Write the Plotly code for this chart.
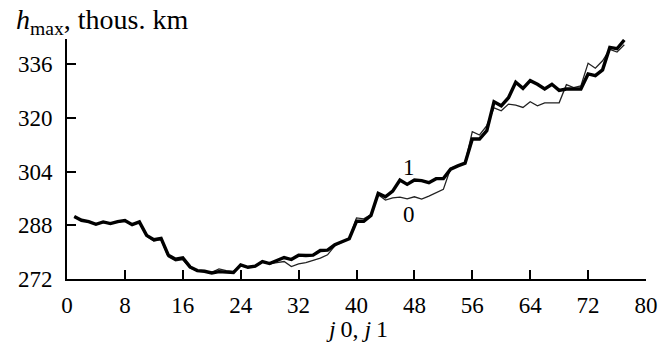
import plotly.graph_objects as go

x_vals = list(range(1, 78))

h1 = [290.6, 289.5, 289.1, 288.3, 289.0, 288.5, 289.1, 289.4, 288.2, 289.0,
      285.0, 283.7, 284.1, 279.1, 277.9, 278.3, 275.6, 274.5, 274.3, 273.8,
      274.2, 274.0, 273.9, 276.2, 275.5, 275.8, 277.2, 276.6, 277.5, 278.4,
      277.8, 279.1, 279.0, 279.1, 280.5, 280.6, 282.2, 283.0, 284.0, 289.2,
      289.2, 290.9, 297.5, 296.5, 298.2, 301.5, 300.2, 301.5, 301.3, 300.7,
      301.9, 301.9, 304.7, 305.7, 306.5, 313.7, 313.7, 316.2, 324.8, 323.6,
      326.0, 330.6, 328.8, 331.1, 330.0, 328.6, 330.0, 328.2, 328.6, 328.6,
      328.6, 333.1, 332.6, 334.3, 341.0, 340.6, 343.2]

h0 = [290.5, 289.4, 289.0, 288.2, 288.9, 288.4, 289.0, 289.3, 288.1, 288.9,
      284.7, 283.3, 283.7, 278.6, 277.4, 277.8, 275.3, 274.4, 274.2, 274.0,
      275.0, 274.5, 274.3, 276.0, 275.4, 275.7, 277.0, 276.5, 276.9, 277.2,
      275.7, 276.5, 276.9, 277.6, 278.2, 279.2, 281.9, 283.0, 284.0, 290.2,
      289.9, 291.2, 297.1, 295.5, 296.2, 296.4, 295.9, 296.5, 295.8, 296.7,
      297.7, 298.7, 305.0, 305.8, 306.6, 315.9, 314.9, 317.7, 323.0, 322.1,
      324.1, 323.8, 323.1, 324.8, 323.6, 324.5, 324.5, 324.5, 329.9, 329.0,
      329.5, 336.3, 334.8, 337.0, 340.4, 339.6, 341.8]

x_ticks = [0, 8, 16, 24, 32, 40, 48, 56, 64, 72, 80]
y_ticks = [272, 288, 304, 320, 336]

FONT = "Liberation Serif"

fig = go.Figure()
fig.add_trace(go.Scatter(x=x_vals, y=h0, mode="lines",
                         line=dict(color="#222222", width=1.3), name="0"))
fig.add_trace(go.Scatter(x=x_vals, y=h1, mode="lines",
                         line=dict(color="#000000", width=3.4), name="1"))

fig.update_layout(
    width=669, height=353,
    margin=dict(l=67, r=23, t=39, b=74, autoexpand=False),
    paper_bgcolor="white", plot_bgcolor="white",
    showlegend=False,
    font=dict(family=FONT, size=23, color="black"),
)
fig.update_xaxes(range=[0, 80], tickvals=x_ticks, ticktext=[str(v) for v in x_ticks],
                 showline=True, linecolor="black", linewidth=2,
                 ticks="inside", ticklen=9, tickwidth=2, tickcolor="black",
                 showgrid=False, zeroline=False, automargin=False,
                 tickfont=dict(family=FONT, size=23), ticklabelstandoff=4)
fig.update_yaxes(range=[272, 343.5], tickvals=y_ticks, ticktext=[str(v) for v in y_ticks],
                 showline=True, linecolor="black", linewidth=2,
                 ticks="inside", ticklen=9, tickwidth=2, tickcolor="black",
                 showgrid=False, zeroline=False, automargin=False,
                 tickfont=dict(family=FONT, size=23), ticklabelstandoff=8)

fig.add_annotation(x=47.2, y=305.3, xref="x", yref="y", text="1", showarrow=False,
                   font=dict(family=FONT, size=23))
fig.add_annotation(x=47.2, y=291.2, xref="x", yref="y", text="0", showarrow=False,
                   font=dict(family=FONT, size=23))
fig.add_annotation(x=40, y=-0.21, xref="x", yref="paper",
                   text="<i>j</i>\u20090, <i>j</i>\u20091",
                   showarrow=False, yanchor="middle", font=dict(family=FONT, size=24))
fig.add_annotation(x=-0.092, y=1.155, xref="paper", yref="paper",
                   text="<i>h</i><sub>max</sub>, thous. km",
                   showarrow=False, xanchor="left", yanchor="top",
                   font=dict(family=FONT, size=28))

fig.write_html("out.html", config={"displayModeBar": False},
               post_script="document.body.style.margin='0';document.body.style.overflow='hidden';")
